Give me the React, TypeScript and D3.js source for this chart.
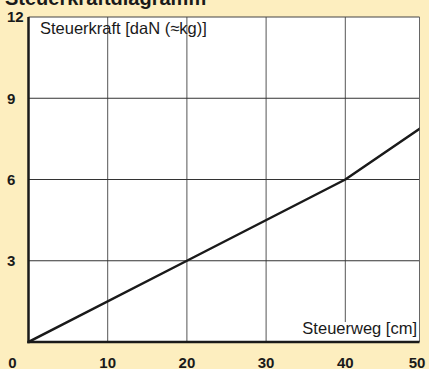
import React from "react";
import * as d3 from "d3";

const xTicks = [0, 10, 20, 30, 40, 50];
const yTicks = [3, 6, 9, 12];
const weg = [0, 20, 40, 50];
const kraft = [0, 3, 6, 8];
const title = "Steuerkraftdiagramm";
const yLabel = "Steuerkraft [daN (≈kg)]";
const xLabel = "Steuerweg [cm]";

const W = 429, H = 369;
const L = 28.5, R = 419.5, T = 17, B = 342;
const font = "'Liberation Sans', Arial, Helvetica, sans-serif";

export default function App() {
  const x = d3.scaleLinear().domain([0, 50]).range([L, 424.5]);
  const y = d3.scaleLinear().domain([0, 12]).range([B, T]);
  const line = d3.line<number>().x((_, i) => x(weg[i])).y((d) => y(d));
  return (
    <svg width={W} height={H} style={{ position: "absolute", left: 0, top: 0 }}>
      <defs>
        <clipPath id="plot">
          <rect x={L} y={T} width={R - L} height={B - T} />
        </clipPath>
      </defs>
      <rect x={0} y={0} width={W} height={H} fill="#fdeebf" />
      <text x={5} y={5} fontFamily={font} fontWeight="bold" fontSize={20} fill="#1a1a1a">{title}</text>
      <rect x={L} y={T} width={R - L} height={B - T} fill="#fff" />
      {xTicks.filter((t) => x(t) > L + 1 && x(t) < R).map((t) => (
        <line key={"gx" + t} x1={x(t)} x2={x(t)} y1={T} y2={B} stroke="#555" strokeWidth={1} />
      ))}
      {yTicks.filter((t) => t < 12).map((t) => (
        <line key={"gy" + t} x1={L} x2={R} y1={y(t)} y2={y(t)} stroke="#333" strokeWidth={1} />
      ))}
      <line x1={L} x2={R} y1={T} y2={T} stroke="#444" strokeWidth={1} />
      <line x1={R} x2={R} y1={T} y2={B} stroke="#666" strokeWidth={1} />
      <text x={40} y={34} fontFamily={font} fontSize={16.5} fill="#1a1a1a">{yLabel}</text>
      <rect x={297} y={322} width={R - 297 - 0.5} height={B - 322} fill="#fff" />
      <text x={417} y={334} textAnchor="end" fontFamily={font} fontSize={16.5} fill="#1a1a1a">{xLabel}</text>
      <path d={line(kraft) || ""} clipPath="url(#plot)" fill="none" stroke="#1a1a1a" strokeWidth={2.5} strokeLinejoin="round" />
      <line x1={L} x2={L} y1={T} y2={B + 1.2} stroke="#1a1a1a" strokeWidth={2.5} />
      <line x1={L - 1.2} x2={R} y1={B} y2={B} stroke="#1a1a1a" strokeWidth={2.5} />
      {yTicks.map((t) => (
        <text key={"yl" + t} x={7} y={y(t)} dy="0.36em" fontFamily={font} fontWeight="bold" fontSize={15} fill="#1a1a1a">{t}</text>
      ))}
      {xTicks.map((t, i) => {
        const px = i === 0 ? x(t) - 16 : i === xTicks.length - 1 ? x(t) - 7.5 : x(t);
        return (
          <text key={"xl" + t} x={px} y={368} textAnchor="middle" fontFamily={font} fontWeight="bold" fontSize={15} fill="#1a1a1a">{t}</text>
        );
      })}
    </svg>
  );
}
